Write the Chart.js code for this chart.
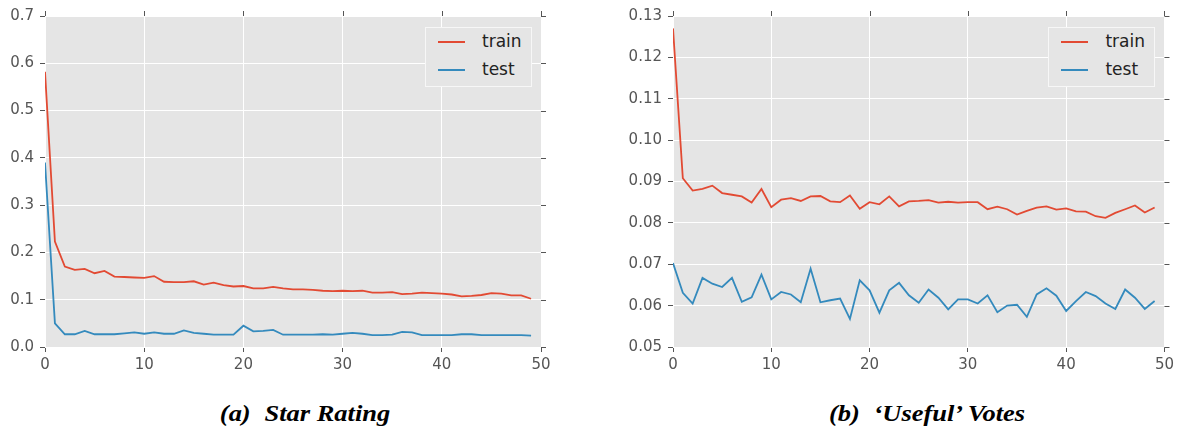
<!DOCTYPE html>
<html>
<head>
<meta charset="utf-8">
<script src="https://cdn.jsdelivr.net/npm/chart.js@4.4.1/dist/chart.umd.min.js"></script>
<style>
  html, body { margin: 0; padding: 0; background: #ffffff; }
  body { width: 1178px; height: 429px; position: relative; overflow: hidden; }
  canvas { position: absolute; top: 0; }
  #c1 { left: 0px; }
  #c2 { left: 600px; }
  .legend {
    position: absolute; box-sizing: border-box;
    background: #E5E5E5; border: 1px solid #F7F7F7;
    font-family: 'DejaVu Sans', sans-serif; font-size: 17px; color: #222;
  }
  .legend .row { position: relative; height: 28px; line-height: 28px; }
  .legend .swatch { position: absolute; left: 12px; top: 13px; width: 27px; height: 2px; }
  .legend .txt { position: absolute; left: 56px; top: -1px; }
  .caption {
    position: absolute; top: 403px; line-height: 22px; white-space: nowrap;
    font-family: 'Liberation Serif', 'Times New Roman', serif;
    font-weight: bold; font-style: italic; font-size: 23px; color: #000;
    transform: translateX(-50%) scaleX(1.15); transform-origin: center;
  }
  .caption .gap { display: inline-block; width: 12px; }
</style>
</head>
<body>
<canvas id="c1" width="600" height="380"></canvas>
<canvas id="c2" width="578" height="380"></canvas>
<div class="caption" style="left:305px;">(a)<span class="gap"></span>Star Rating</div>
<div class="caption" style="left:927px;">(b)<span class="gap"></span>‘Useful’ Votes</div>
<script>
// ---- data ----
const epochs = [0,1,2,3,4,5,6,7,8,9,10,11,12,13,14,15,16,17,18,19,20,21,22,23,24,25,26,27,28,29,30,31,32,33,34,35,36,37,38,39,40,41,42,43,44,45,46,47,48,49];
const seriesNames = ['train', 'test'];

const starTrain = [0.582,0.223,0.170,0.163,0.165,0.156,0.161,0.149,0.148,0.147,
  0.146,0.150,0.138,0.137,0.137,0.139,0.132,0.136,0.131,0.128,
  0.129,0.124,0.124,0.127,0.124,0.122,0.122,0.121,0.119,0.118,
  0.119,0.118,0.119,0.115,0.115,0.116,0.112,0.113,0.115,0.114,
  0.113,0.111,0.107,0.108,0.110,0.114,0.113,0.109,0.109,0.102];
const starTest = [0.390,0.050,0.027,0.027,0.034,0.027,0.027,0.027,0.029,0.031,
  0.028,0.031,0.028,0.028,0.035,0.030,0.028,0.026,0.026,0.026,
  0.045,0.033,0.034,0.036,0.026,0.026,0.026,0.026,0.027,0.026,
  0.028,0.030,0.028,0.025,0.025,0.026,0.032,0.031,0.025,0.025,
  0.025,0.025,0.027,0.027,0.025,0.025,0.025,0.025,0.025,0.024];
const usefulTrain = [0.1270,0.0908,0.0878,0.0882,0.0890,0.0872,0.0868,0.0864,0.0849,0.0882,
  0.0838,0.0856,0.0860,0.0853,0.0864,0.0865,0.0852,0.0850,0.0866,0.0834,
  0.0850,0.0845,0.0864,0.0840,0.0852,0.0853,0.0855,0.0849,0.0851,0.0849,
  0.0850,0.0850,0.0833,0.0839,0.0833,0.0820,0.0829,0.0837,0.0840,0.0832,
  0.0835,0.0828,0.0827,0.0816,0.0812,0.0824,0.0833,0.0842,0.0825,0.0837];
const usefulTest = [0.0703,0.0631,0.0605,0.0667,0.0653,0.0645,0.0667,0.0609,0.0620,0.0675,
  0.0615,0.0633,0.0627,0.0608,0.0689,0.0608,0.0613,0.0617,0.0568,0.0661,
  0.0637,0.0583,0.0637,0.0655,0.0625,0.0607,0.0639,0.0619,0.0591,0.0615,
  0.0615,0.0605,0.0625,0.0584,0.0600,0.0602,0.0573,0.0627,0.0642,0.0624,
  0.0587,0.0611,0.0633,0.0623,0.0605,0.0592,0.0639,0.0619,0.0592,0.0611];

const xTicks = [0,10,20,30,40,50];
const starYTicks = [0.0,0.1,0.2,0.3,0.4,0.5,0.6,0.7];
const usefulYTicks = [0.05,0.06,0.07,0.08,0.09,0.10,0.11,0.12,0.13];

// ---- styling ----
const TRAIN_COLOR = '#E24A33';
const TEST_COLOR = '#348ABD';
const TICK_COLOR = '#555555';

const framePlugin = {
  id: 'frame',
  beforeDraw(chart) {
    const { ctx, chartArea: a } = chart;
    ctx.save();
    ctx.fillStyle = '#E5E5E5';
    ctx.fillRect(a.left, a.top, a.right - a.left, a.bottom - a.top);
    ctx.restore();
  },
  afterDraw(chart) {
    const { ctx, chartArea: a, scales } = chart;
    ctx.save();
    ctx.strokeStyle = TICK_COLOR;
    ctx.lineWidth = 1;
    ctx.beginPath();
    scales.x.ticks.forEach(t => {
      const px = Math.round(scales.x.getPixelForValue(t.value)) + 0.5;
      ctx.moveTo(px, a.top);
      ctx.lineTo(px, a.top - 5);
    });
    scales.y.ticks.forEach(t => {
      const py = Math.round(scales.y.getPixelForValue(t.value)) + 0.5;
      ctx.moveTo(a.right, py);
      ctx.lineTo(a.right + 5, py);
    });
    ctx.stroke();
    ctx.restore();
  }
};

function makeChart(canvasId, train, test, yTicks, decimals, yAxisWidth, padRight) {
  const canvas = document.getElementById(canvasId);
  const tickValues = yTicks;
  const chart = new Chart(canvas, {
    type: 'line',
    data: {
      datasets: [
        { label: seriesNames[0], data: epochs.map((e, i) => ({ x: e, y: train[i] })),
          borderColor: TRAIN_COLOR, backgroundColor: TRAIN_COLOR },
        { label: seriesNames[1], data: epochs.map((e, i) => ({ x: e, y: test[i] })),
          borderColor: TEST_COLOR, backgroundColor: TEST_COLOR }
      ]
    },
    options: {
      responsive: false,
      animation: false,
      devicePixelRatio: 1,
      layout: { padding: { top: 16, right: padRight, left: 0, bottom: 0 } },
      elements: {
        line: { borderWidth: 1.8, tension: 0 },
        point: { radius: 0, hoverRadius: 0 }
      },
      plugins: { legend: { display: false }, tooltip: { enabled: false } },
      scales: {
        x: {
          type: 'linear',
          min: xTicks[0], max: xTicks[xTicks.length - 1],
          afterBuildTicks: s => { s.ticks = xTicks.map(v => ({ value: v })); },
          afterFit: s => { s.height = 33; },
          border: { display: false },
          grid: { color: '#FFFFFF', lineWidth: 1, tickColor: TICK_COLOR, tickLength: 5 },
          ticks: { color: TICK_COLOR, padding: 4, maxRotation: 0,
                   font: { family: 'DejaVu Sans', size: 15 },
                   callback: v => String(v) }
        },
        y: {
          type: 'linear',
          min: tickValues[0], max: tickValues[tickValues.length - 1],
          afterBuildTicks: s => { s.ticks = tickValues.map(v => ({ value: v })); },
          afterFit: s => { s.width = yAxisWidth; },
          border: { display: false },
          grid: { color: '#FFFFFF', lineWidth: 1, tickColor: TICK_COLOR, tickLength: 5 },
          ticks: { color: TICK_COLOR, padding: 6,
                   font: { family: 'DejaVu Sans', size: 15 },
                   callback: v => Number(v).toFixed(decimals) }
        }
      }
    },
    plugins: [framePlugin]
  });

  // HTML legend built from the chart's datasets, placed at the top-right of the plot area
  const a = chart.chartArea;
  const box = document.createElement('div');
  box.className = 'legend';
  const offsetLeft = canvas.offsetLeft;
  const w = 107, h = 60;
  box.style.left = (offsetLeft + a.right - 9 - w) + 'px';
  box.style.top = (a.top + 11) + 'px';
  box.style.width = w + 'px';
  box.style.height = h + 'px';
  chart.data.datasets.forEach(ds => {
    const row = document.createElement('div');
    row.className = 'row';
    const sw = document.createElement('span');
    sw.className = 'swatch';
    sw.style.background = ds.borderColor;
    const tx = document.createElement('span');
    tx.className = 'txt';
    tx.textContent = ds.label;
    row.appendChild(sw); row.appendChild(tx);
    box.appendChild(row);
  });
  document.body.appendChild(box);
  return chart;
}

makeChart('c1', starTrain, starTest, starYTicks, 1, 45, 59);
makeChart('c2', usefulTrain, usefulTest, usefulYTicks, 2, 73, 10);
</script>
</body>
</html>
